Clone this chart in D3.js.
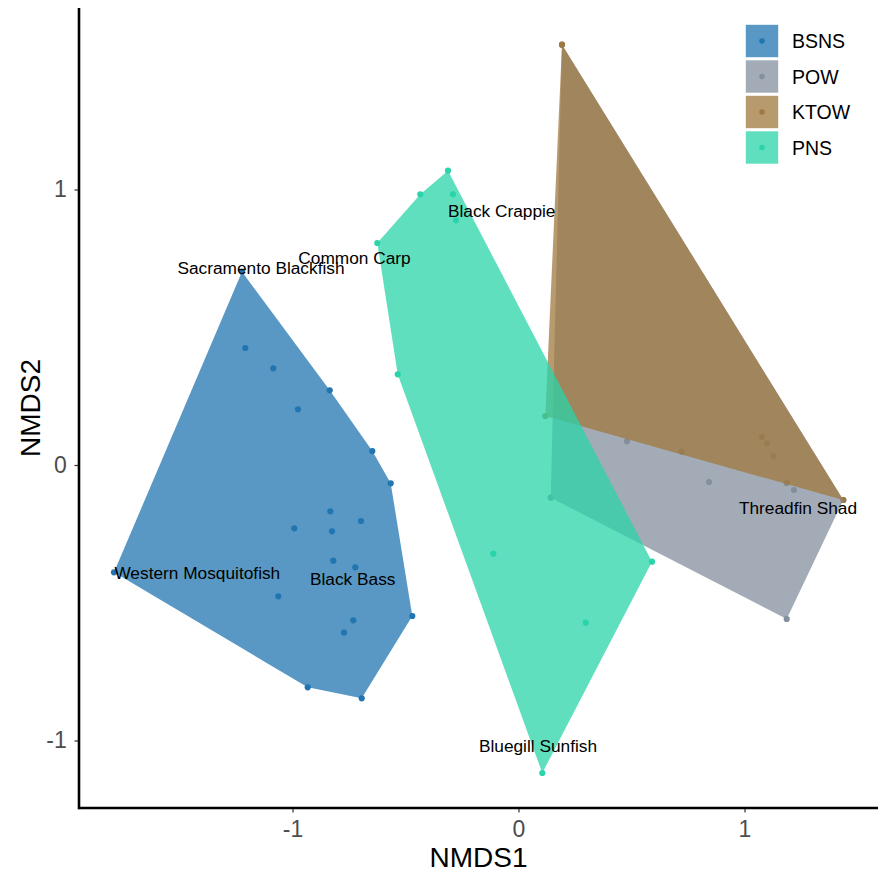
<!DOCTYPE html>
<html>
<head>
<meta charset="utf-8">
<script src="https://cdn.jsdelivr.net/npm/d3@7"></script>
<style>
  html, body { margin: 0; padding: 0; background: #ffffff; }
  svg { display: block; }
  text { font-family: Arial, "Liberation Sans", sans-serif; }
</style>
</head>
<body>
<svg id="chart" width="878" height="873"></svg>
<script>
// ---- Data (NMDS site scores) ----
const groups = ["BSNS", "POW", "KTOW", "PNS"];
const groupColors = ["#2275b0", "#838f9d", "#a0783f", "#2bd4aa"];

const bsnsX = [-1.2235, -1.2088, -1.0850, -0.8354, -0.9757, -0.6469, -0.5655, -0.8327, -0.6969, -0.9920,
               -0.8252, -0.8195, -0.7221, -1.7898, -1.0628, -0.4699, -0.7310, -0.7721, -0.9327, -0.6938];
const bsnsY = [ 0.7016,  0.4247,  0.3510,  0.2711,  0.2022,  0.0508, -0.0664, -0.1681, -0.2033, -0.2298,
               -0.2407, -0.3474, -0.3713, -0.3895, -0.4766, -0.5481, -0.5637, -0.6087, -0.8069, -0.8468];

const powX = [0.1925, 0.4801, 0.8429, 1.2190, 0.1425, 1.1867, 1.4372];
const powY = [1.5256, 0.0860, -0.0617, -0.0907, -0.1187, -0.5590, -0.1270];

const ktowX = [0.1925, 0.1186, 0.7221, 1.0774, 1.0996, 1.1274, 1.1867, 1.4372];
const ktowY = [1.5256, 0.1779, 0.0483, 0.1016, 0.0788, 0.0316, -0.0653, -0.1270];

const pnsX = [-0.3119, -0.4345, -0.2898, -0.2765, -0.6248, -0.5345, -0.1115, 0.5907, 0.2973, 0.1053];
const pnsY = [ 1.0682,  0.9826,  0.9826,  0.8882,  0.8058,  0.3292, -0.3220, -0.3510, -0.5724, -1.1180];

// species labels (species scores)
const speciesNames = ["Sacramento Blackfish", "Common Carp", "Black Crappie", "Western Mosquitofish",
                      "Black Bass", "Bluegill Sunfish", "Threadfin Shad"];
const speciesX = [-1.1394, -0.7257, -0.0743, -1.4212, -0.7336, 0.0863, 1.2367];
const speciesY = [ 0.7151,  0.7539,  0.9220, -0.3895, -0.4113, -1.0200, -0.1535];

const xTicks = [-1, 0, 1];
const yTicks = [-1, 0, 1];
const xTitle = "NMDS1";
const yTitle = "NMDS2";

// ---- Layout ----
const W = 878, H = 873;
const mLeft = 79, mRight = 878, mTop = 8, mBottom = 808;

const x = d3.scaleLinear().domain([-1.9447, 1.5907]).range([mLeft, mRight]);
const y = d3.scaleLinear().domain([-1.2450, 1.6588]).range([mBottom, mTop]);
const color = d3.scaleOrdinal().domain(groups).range(groupColors);

const seriesX = { BSNS: bsnsX, POW: powX, KTOW: ktowX, PNS: pnsX };
const seriesY = { BSNS: bsnsY, POW: powY, KTOW: ktowY, PNS: pnsY };

const svg = d3.select("#chart");
const FILL_ALPHA = 0.75;

// points (drawn underneath the hulls)
const pts = svg.append("g").attr("class", "points");
groups.forEach(g => {
  const data = seriesX[g].map((v, i) => [v, seriesY[g][i]]);
  pts.selectAll(null).data(data).enter().append("circle")
    .attr("cx", d => x(d[0]))
    .attr("cy", d => y(d[1]))
    .attr("r", 3.1)
    .attr("fill", color(g));
});

// hull polygons
const hulls = svg.append("g").attr("class", "hulls");
groups.forEach(g => {
  const pix = seriesX[g].map((v, i) => [x(v), y(seriesY[g][i])]);
  const hull = d3.polygonHull(pix);
  hulls.append("path")
    .attr("d", "M" + hull.map(p => p.join(",")).join("L") + "Z")
    .attr("fill", color(g))
    .attr("fill-opacity", FILL_ALPHA)
    .attr("stroke", "none");
});

// species labels
svg.append("g").selectAll("text").data(speciesNames).enter().append("text")
  .attr("x", (d, i) => x(speciesX[i]))
  .attr("y", (d, i) => y(speciesY[i]))
  .attr("dy", "0.36em")
  .attr("text-anchor", "middle")
  .attr("font-size", "17.3px")
  .attr("fill", "#000000")
  .text(d => d);

// axes
const xAxis = svg.append("g").attr("transform", `translate(0,${mBottom})`)
  .call(d3.axisBottom(x).tickValues(xTicks).tickFormat(d3.format("d")).tickSizeInner(4.5).tickSizeOuter(0).tickPadding(8.5));
const yAxis = svg.append("g").attr("transform", `translate(${mLeft},0)`)
  .call(d3.axisLeft(y).tickValues(yTicks).tickFormat(d3.format("d")).tickSizeInner(4.5).tickSizeOuter(0).tickPadding(7.8));

[xAxis, yAxis].forEach(a => {
  a.select(".domain").remove();
  a.selectAll(".tick line").attr("stroke", "#333333").attr("stroke-width", 1.2);
  a.selectAll(".tick text").attr("fill", "#4d4d4d").attr("font-size", "23px")
    .attr("font-family", "Arial, 'Liberation Sans', sans-serif");
});
// use a plain hyphen for negatives like the original
svg.selectAll(".tick text").text(function() { return this.textContent.replace("\u2212", "-"); });

// axis lines
svg.append("line").attr("x1", mLeft).attr("x2", mRight).attr("y1", mBottom).attr("y2", mBottom)
  .attr("stroke", "#000").attr("stroke-width", 2.6);
svg.append("line").attr("x1", mLeft).attr("x2", mLeft).attr("y1", mTop).attr("y2", mBottom + 1.3)
  .attr("stroke", "#000").attr("stroke-width", 2.6);

// axis titles
svg.append("text").attr("x", (mLeft + mRight) / 2).attr("y", 867)
  .attr("text-anchor", "middle").attr("font-size", "28px").attr("fill", "#000").text(xTitle);
svg.append("text").attr("transform", `translate(40,${(mTop + mBottom) / 2}) rotate(-90)`)
  .attr("text-anchor", "middle").attr("font-size", "28px").attr("fill", "#000").text(yTitle);

// legend
const legend = svg.append("g").attr("transform", "translate(745,24)");
const keyW = 34, keyH = 34, keyStep = 35.5;
groups.forEach((g, i) => {
  const row = legend.append("g").attr("transform", `translate(0,${i * keyStep})`);
  row.append("rect").attr("width", keyW).attr("height", keyH).attr("fill", "#ffffff");
  row.append("circle").attr("cx", keyW / 2).attr("cy", keyH / 2).attr("r", 2.8).attr("fill", color(g));
  row.append("rect").attr("x", 0.8).attr("y", 0.8).attr("width", keyW - 1.6).attr("height", keyH - 1.6)
    .attr("fill", color(g)).attr("fill-opacity", FILL_ALPHA);
  row.append("text").attr("x", 47).attr("y", keyH / 2).attr("dy", "0.36em")
    .attr("font-size", "19.5px").attr("fill", "#000").text(g);
});
</script>
</body>
</html>
